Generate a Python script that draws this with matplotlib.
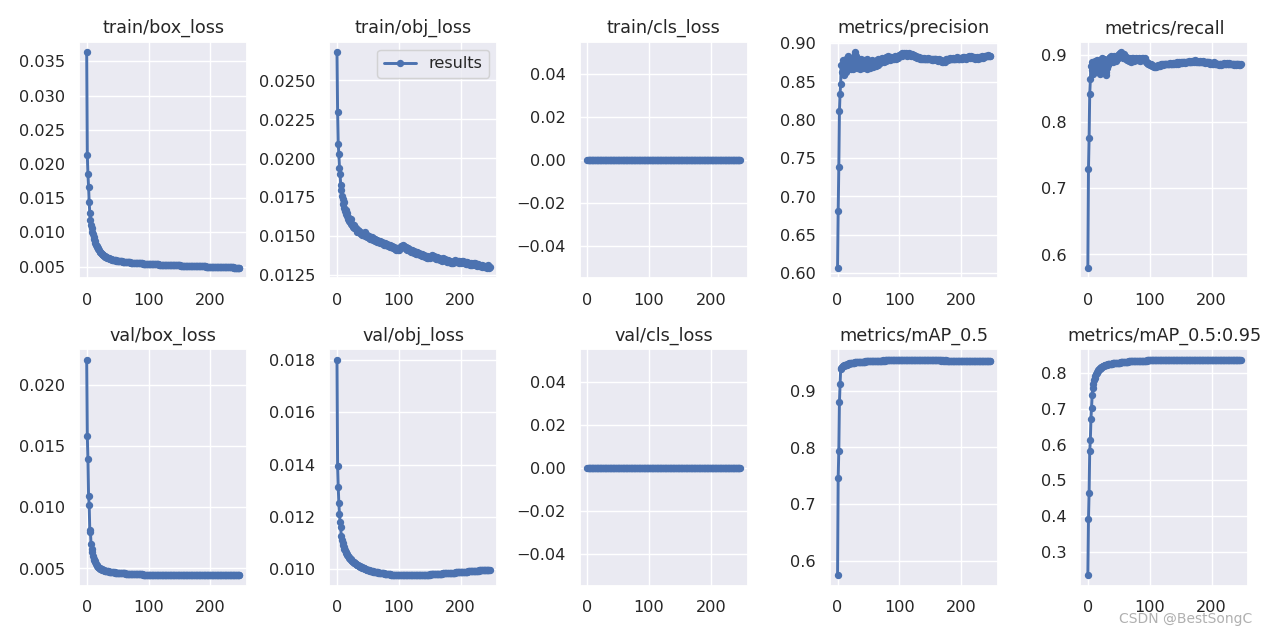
import matplotlib
matplotlib.use('Agg')
import matplotlib.pyplot as plt
import seaborn as sns

train_box_loss = [
    0.0363, 0.0213, 0.0185, 0.0167, 0.0144, 0.0128, 0.0118, 0.0111, 0.0106, 0.0101,
    0.0097, 0.0093, 0.0090, 0.0087, 0.0084, 0.0082, 0.0080, 0.0078, 0.0077, 0.0075,
    0.0074, 0.0072, 0.0071, 0.0070, 0.0069, 0.0068, 0.0067, 0.0067, 0.0066, 0.0065,
    0.00647, 0.00641, 0.00636, 0.00631, 0.00627, 0.00622, 0.00618, 0.00615, 0.00612, 0.00609,
    0.00606, 0.00603, 0.00601, 0.00598, 0.00596, 0.00594, 0.00592, 0.00590, 0.00588, 0.00587,
    0.00585, 0.00583, 0.00582, 0.00580, 0.00579, 0.00577, 0.00576, 0.00575, 0.00573, 0.00572,
    0.00571, 0.00570, 0.00569, 0.00567, 0.00566, 0.00565, 0.00564, 0.00563, 0.00562, 0.00561,
    0.00560, 0.00559, 0.00558, 0.00557, 0.00557, 0.00556, 0.00555, 0.00554, 0.00553, 0.00553,
    0.00552, 0.00551, 0.00550, 0.00550, 0.00549, 0.00548, 0.00548, 0.00547, 0.00546, 0.00546,
    0.00545, 0.00544, 0.00544, 0.00543, 0.00543, 0.00542, 0.00541, 0.00541, 0.00540, 0.00540,
    0.00539, 0.00539, 0.00538, 0.00537, 0.00537, 0.00536, 0.00536, 0.00535, 0.00535, 0.00534,
    0.00534, 0.00533, 0.00533, 0.00532, 0.00532, 0.00531, 0.00531, 0.00530, 0.00530, 0.00529,
    0.00529, 0.00528, 0.00528, 0.00527, 0.00527, 0.00526, 0.00526, 0.00526, 0.00525, 0.00525,
    0.00524, 0.00524, 0.00523, 0.00523, 0.00523, 0.00522, 0.00522, 0.00521, 0.00521, 0.00521,
    0.00520, 0.00520, 0.00519, 0.00519, 0.00519, 0.00518, 0.00518, 0.00517, 0.00517, 0.00517,
    0.00516, 0.00516, 0.00515, 0.00515, 0.00515, 0.00514, 0.00514, 0.00514, 0.00513, 0.00513,
    0.00512, 0.00512, 0.00512, 0.00511, 0.00511, 0.00511, 0.00510, 0.00510, 0.00510, 0.00509,
    0.00509, 0.00509, 0.00508, 0.00508, 0.00508, 0.00507, 0.00507, 0.00507, 0.00506, 0.00506,
    0.00506, 0.00505, 0.00505, 0.00505, 0.00504, 0.00504, 0.00504, 0.00503, 0.00503, 0.00503,
    0.00502, 0.00502, 0.00502, 0.00501, 0.00501, 0.00501, 0.00500, 0.00500, 0.00500, 0.00499,
    0.00499, 0.00499, 0.00498, 0.00498, 0.00498, 0.00497, 0.00497, 0.00497, 0.00496, 0.00496,
    0.00496, 0.00495, 0.00495, 0.00495, 0.00494, 0.00494, 0.00494, 0.00493, 0.00493, 0.00493,
    0.00492, 0.00492, 0.00492, 0.00491, 0.00491, 0.00491, 0.00490, 0.00490, 0.00490, 0.00489,
    0.00489, 0.00489, 0.00488, 0.00488, 0.00488, 0.00487, 0.00487, 0.00487, 0.00486, 0.00486,
    0.00486, 0.00485, 0.00485, 0.00485, 0.00484, 0.00484, 0.00484, 0.00483,
]

train_obj_loss = [
    0.0268, 0.0230, 0.0209, 0.0203, 0.0194, 0.0190, 0.0183, 0.0180, 0.0176, 0.0174,
    0.0171, 0.0172, 0.0168, 0.0166, 0.0167, 0.0164, 0.0163, 0.0165, 0.0161, 0.0162,
    0.0160, 0.0159, 0.0161, 0.0158, 0.0157, 0.0158, 0.0156, 0.0155, 0.0157, 0.0155,
    0.01545, 0.01552, 0.01538, 0.01530, 0.01541, 0.01525, 0.01532, 0.01518, 0.01527, 0.01515,
    0.01522, 0.01510, 0.01518, 0.01505, 0.01512, 0.01500, 0.01525, 0.01508, 0.01495, 0.01510,
    0.01498, 0.01489, 0.01503, 0.01485, 0.01492, 0.01480, 0.01495, 0.01482, 0.01478, 0.01490,
    0.01475, 0.01484, 0.01470, 0.01478, 0.01466, 0.01474, 0.01462, 0.01471, 0.01460, 0.01468,
    0.01458, 0.01465, 0.01455, 0.01462, 0.01450, 0.01458, 0.01447, 0.01455, 0.01444, 0.01452,
    0.01441, 0.01449, 0.01438, 0.01446, 0.01435, 0.01443, 0.01432, 0.01440, 0.01428, 0.01437,
    0.01425, 0.01434, 0.01422, 0.01430, 0.01418, 0.01427, 0.01415, 0.01424, 0.01412, 0.01420,
    0.01410, 0.01418, 0.01425, 0.01432, 0.01438, 0.01440, 0.01435, 0.01442, 0.01430, 0.01436,
    0.01425, 0.01432, 0.01420, 0.01427, 0.01415, 0.01422, 0.01410, 0.01418, 0.01405, 0.01414,
    0.01402, 0.01410, 0.01398, 0.01407, 0.01395, 0.01404, 0.01392, 0.01400, 0.01389, 0.01397,
    0.01386, 0.01394, 0.01383, 0.01391, 0.01380, 0.01388, 0.01377, 0.01385, 0.01374, 0.01382,
    0.01371, 0.01379, 0.01368, 0.01376, 0.01365, 0.01373, 0.01362, 0.01370, 0.01360, 0.01368,
    0.01358, 0.01366, 0.01372, 0.01378, 0.01370, 0.01376, 0.01365, 0.01372, 0.01360, 0.01368,
    0.01357, 0.01365, 0.01354, 0.01362, 0.01351, 0.01359, 0.01348, 0.01356, 0.01346, 0.01354,
    0.01344, 0.01352, 0.01360, 0.01355, 0.01348, 0.01356, 0.01342, 0.01350, 0.01338, 0.01347,
    0.01336, 0.01344, 0.01333, 0.01341, 0.01330, 0.01338, 0.01328, 0.01336, 0.01326, 0.01334,
    0.01340, 0.01346, 0.01338, 0.01344, 0.01335, 0.01342, 0.01332, 0.01339, 0.01330, 0.01337,
    0.01328, 0.01336, 0.01340, 0.01334, 0.01342, 0.01331, 0.01338, 0.01327, 0.01335, 0.01324,
    0.01332, 0.01322, 0.01330, 0.01320, 0.01328, 0.01318, 0.01326, 0.01316, 0.01324, 0.01314,
    0.01322, 0.01330, 0.01325, 0.01318, 0.01327, 0.01315, 0.01323, 0.01312, 0.01320, 0.01310,
    0.01318, 0.01308, 0.01316, 0.01306, 0.01314, 0.01305, 0.01312, 0.01303, 0.01311, 0.01302,
    0.01309, 0.01300, 0.01308, 0.01299, 0.01306, 0.01315, 0.01298, 0.01305,
]

train_cls_loss = [0.0] * 248

precision = [
    0.607, 0.681, 0.738, 0.811, 0.834, 0.847, 0.872, 0.862, 0.878, 0.866,
    0.858, 0.874, 0.869, 0.880, 0.863, 0.876, 0.871, 0.884, 0.868, 0.873,
    0.879, 0.866, 0.874, 0.870, 0.881, 0.867, 0.875, 0.869, 0.886, 0.888,
    0.883, 0.874, 0.868, 0.877, 0.871, 0.879, 0.866, 0.873, 0.880, 0.870,
    0.876, 0.868, 0.874, 0.878, 0.869, 0.875, 0.871, 0.879, 0.867, 0.873,
    0.877, 0.870, 0.874, 0.868, 0.876, 0.872, 0.878, 0.869, 0.874, 0.871,
    0.877, 0.873, 0.870, 0.878, 0.874, 0.880, 0.872, 0.876, 0.879, 0.874,
    0.878, 0.875, 0.881, 0.877, 0.879, 0.876, 0.880, 0.878, 0.882, 0.877,
    0.880, 0.878, 0.883, 0.879, 0.881, 0.878, 0.882, 0.880, 0.879, 0.881,
    0.879, 0.882, 0.880, 0.883, 0.881, 0.879, 0.882, 0.884, 0.881, 0.883,
    0.885, 0.884, 0.886, 0.885, 0.887, 0.884, 0.886, 0.885, 0.887, 0.886,
    0.885, 0.887, 0.886, 0.884, 0.886, 0.885, 0.887, 0.886, 0.885, 0.884,
    0.886, 0.885, 0.884, 0.885, 0.883, 0.884, 0.882, 0.883, 0.882, 0.881,
    0.882, 0.881, 0.882, 0.880, 0.881, 0.880, 0.881, 0.880, 0.879, 0.880,
    0.881, 0.880, 0.879, 0.880, 0.879, 0.880, 0.881, 0.880, 0.879, 0.880,
    0.879, 0.880, 0.879, 0.878, 0.879, 0.878, 0.879, 0.880, 0.879, 0.878,
    0.879, 0.878, 0.877, 0.878, 0.879, 0.878, 0.877, 0.878, 0.877, 0.876,
    0.877, 0.876, 0.877, 0.876, 0.877, 0.878, 0.879, 0.880, 0.879, 0.878,
    0.879, 0.880, 0.881, 0.880, 0.879, 0.880, 0.881, 0.880, 0.879, 0.880,
    0.879, 0.880, 0.881, 0.882, 0.881, 0.880, 0.879, 0.880, 0.881, 0.880,
    0.881, 0.880, 0.881, 0.882, 0.881, 0.882, 0.881, 0.880, 0.881, 0.882,
    0.881, 0.882, 0.883, 0.882, 0.881, 0.882, 0.883, 0.882, 0.881, 0.882,
    0.881, 0.882, 0.881, 0.880, 0.881, 0.882, 0.881, 0.880, 0.881, 0.882,
    0.881, 0.882, 0.881, 0.882, 0.883, 0.882, 0.881, 0.882, 0.883, 0.884,
    0.883, 0.884, 0.883, 0.884, 0.885, 0.884, 0.883, 0.884,
]

recall = [
    0.580, 0.729, 0.775, 0.841, 0.864, 0.884, 0.878, 0.889, 0.872, 0.886,
    0.880, 0.891, 0.876, 0.887, 0.883, 0.893, 0.879, 0.888, 0.874, 0.885,
    0.871, 0.892, 0.886, 0.896, 0.880, 0.889, 0.894, 0.883, 0.876, 0.870,
    0.874, 0.880, 0.891, 0.885, 0.895, 0.888, 0.897, 0.890, 0.899, 0.893,
    0.896, 0.890, 0.898, 0.893, 0.895, 0.891, 0.897, 0.894, 0.900, 0.896,
    0.902, 0.897, 0.903, 0.899, 0.904, 0.898, 0.902, 0.896, 0.901, 0.895,
    0.899, 0.894, 0.897, 0.893, 0.896, 0.892, 0.895, 0.891, 0.894, 0.890,
    0.893, 0.895, 0.892, 0.896, 0.893, 0.891, 0.894, 0.892, 0.895, 0.893,
    0.894, 0.892, 0.895, 0.893, 0.891, 0.894, 0.892, 0.895, 0.893, 0.896,
    0.894, 0.892, 0.895, 0.893, 0.890, 0.888, 0.889, 0.887, 0.888, 0.886,
    0.887, 0.885, 0.886, 0.884, 0.885, 0.883, 0.884, 0.882, 0.883, 0.882,
    0.883, 0.882, 0.884, 0.883, 0.885, 0.884, 0.885, 0.884, 0.886, 0.885,
    0.886, 0.885, 0.886, 0.887, 0.886, 0.887, 0.886, 0.887, 0.886, 0.887,
    0.887, 0.886, 0.887, 0.888, 0.887, 0.886, 0.887, 0.888, 0.887, 0.888,
    0.887, 0.888, 0.887, 0.888, 0.889, 0.888, 0.887, 0.888, 0.889, 0.888,
    0.889, 0.888, 0.889, 0.888, 0.889, 0.890, 0.889, 0.888, 0.889, 0.890,
    0.889, 0.890, 0.889, 0.890, 0.891, 0.890, 0.889, 0.890, 0.891, 0.890,
    0.891, 0.890, 0.891, 0.892, 0.891, 0.890, 0.891, 0.890, 0.889, 0.890,
    0.889, 0.890, 0.891, 0.890, 0.889, 0.890, 0.891, 0.890, 0.889, 0.888,
    0.889, 0.890, 0.889, 0.890, 0.889, 0.888, 0.889, 0.888, 0.887, 0.888,
    0.887, 0.888, 0.887, 0.888, 0.889, 0.888, 0.887, 0.886, 0.887, 0.886,
    0.887, 0.886, 0.885, 0.886, 0.887, 0.886, 0.885, 0.886, 0.887, 0.886,
    0.887, 0.888, 0.887, 0.886, 0.887, 0.888, 0.887, 0.886, 0.887, 0.888,
    0.887, 0.886, 0.887, 0.886, 0.887, 0.886, 0.885, 0.886, 0.887, 0.886,
    0.885, 0.886, 0.887, 0.886, 0.885, 0.886, 0.885, 0.886,
]

val_box_loss = [
    0.0220, 0.0158, 0.0139, 0.0109, 0.0102, 0.0081, 0.0080, 0.0070, 0.0066, 0.0063,
    0.0060, 0.0058, 0.0057, 0.0056, 0.0055, 0.0054, 0.0053, 0.0052, 0.00515, 0.0051,
    0.00505, 0.00501, 0.00498, 0.00495, 0.00492, 0.00490, 0.00488, 0.00486, 0.00484, 0.00482,
    0.00481, 0.00479, 0.00478, 0.00477, 0.00476, 0.00475, 0.00474, 0.00473, 0.00472, 0.00471,
    0.00470, 0.00469, 0.00469, 0.00468, 0.00467, 0.00467, 0.00466, 0.00466, 0.00465, 0.00465,
    0.00464, 0.00464, 0.00463, 0.00463, 0.00462, 0.00462, 0.00461, 0.00461, 0.00460, 0.00460,
    0.00460, 0.00459, 0.00459, 0.00458, 0.00458, 0.00458, 0.00457, 0.00457, 0.00457, 0.00456,
    0.00456, 0.00456, 0.00455, 0.00455, 0.00455, 0.00454, 0.00454, 0.00454, 0.00454, 0.00453,
    0.00453, 0.00453, 0.00453, 0.00452, 0.00452, 0.00452, 0.00452, 0.00451, 0.00451, 0.00451,
    0.00451, 0.00450, 0.00450, 0.00450, 0.00450, 0.00449, 0.00449, 0.00449, 0.00449, 0.00449,
    0.00448, 0.00448, 0.00448, 0.00448, 0.00447, 0.00447, 0.00447, 0.00447, 0.00447, 0.00447,
    0.00446, 0.00446, 0.00446, 0.00446, 0.00446, 0.00446, 0.00446, 0.00446, 0.00446, 0.00446,
    0.00446, 0.00446, 0.00446, 0.00446, 0.00446, 0.00445, 0.00445, 0.00445, 0.00445, 0.00445,
    0.00445, 0.00445, 0.00445, 0.00445, 0.00445, 0.00445, 0.00445, 0.00445, 0.00445, 0.00445,
    0.00445, 0.00445, 0.00445, 0.00444, 0.00445, 0.00445, 0.00444, 0.00445, 0.00445, 0.00444,
    0.00445, 0.00444, 0.00444, 0.00445, 0.00444, 0.00444, 0.00445, 0.00444, 0.00444, 0.00444,
    0.00444, 0.00445, 0.00444, 0.00444, 0.00444, 0.00444, 0.00445, 0.00444, 0.00444, 0.00444,
    0.00444, 0.00444, 0.00444, 0.00445, 0.00444, 0.00444, 0.00444, 0.00444, 0.00444, 0.00445,
    0.00444, 0.00444, 0.00444, 0.00444, 0.00445, 0.00444, 0.00444, 0.00444, 0.00445, 0.00444,
    0.00444, 0.00445, 0.00444, 0.00444, 0.00444, 0.00445, 0.00444, 0.00445, 0.00444, 0.00444,
    0.00445, 0.00444, 0.00444, 0.00445, 0.00444, 0.00445, 0.00444, 0.00444, 0.00445, 0.00444,
    0.00445, 0.00444, 0.00445, 0.00444, 0.00445, 0.00445, 0.00444, 0.00445, 0.00444, 0.00445,
    0.00445, 0.00444, 0.00445, 0.00445, 0.00444, 0.00445, 0.00445, 0.00444, 0.00445, 0.00445,
    0.00445, 0.00445, 0.00444, 0.00445, 0.00445, 0.00445, 0.00444, 0.00445, 0.00445, 0.00445,
    0.00445, 0.00445, 0.00445, 0.00444, 0.00445, 0.00445, 0.00445, 0.00445,
]

val_obj_loss = [
    0.0180, 0.01394, 0.01314, 0.01253, 0.01210, 0.01182, 0.01160, 0.01126, 0.01112, 0.01100,
    0.01092, 0.01085, 0.01078, 0.01072, 0.01067, 0.01062, 0.01058, 0.01054, 0.01050, 0.01047,
    0.01044, 0.01041, 0.01038, 0.01036, 0.01033, 0.01031, 0.01029, 0.01027, 0.01025, 0.01023,
    0.01021, 0.01019, 0.01018, 0.01016, 0.01015, 0.01013, 0.01012, 0.01011, 0.01009, 0.01008,
    0.01007, 0.01006, 0.01005, 0.01004, 0.01003, 0.01002, 0.01001, 0.01000, 0.00999, 0.00998,
    0.00997, 0.00997, 0.00996, 0.00995, 0.00994, 0.00994, 0.00993, 0.00992, 0.00992, 0.00991,
    0.00991, 0.00990, 0.00990, 0.00989, 0.00989, 0.00988, 0.00988, 0.00987, 0.00987, 0.00986,
    0.00986, 0.00986, 0.00985, 0.00985, 0.00984, 0.00984, 0.00984, 0.00983, 0.00983, 0.00983,
    0.00982, 0.00982, 0.00982, 0.00981, 0.00981, 0.00981, 0.00981, 0.00980, 0.00980, 0.00980,
    0.00980, 0.00979, 0.00979, 0.00979, 0.00979, 0.00979, 0.00978, 0.00978, 0.00978, 0.00978,
    0.00978, 0.00978, 0.00978, 0.00978, 0.00977, 0.00977, 0.00977, 0.00977, 0.00977, 0.00977,
    0.00977, 0.00977, 0.00977, 0.00977, 0.00977, 0.00977, 0.00977, 0.00977, 0.00977, 0.00977,
    0.00977, 0.00977, 0.00977, 0.00977, 0.00977, 0.00977, 0.00977, 0.00977, 0.00977, 0.00977,
    0.00978, 0.00978, 0.00978, 0.00978, 0.00978, 0.00978, 0.00979, 0.00979, 0.00979, 0.00979,
    0.00979, 0.00979, 0.00979, 0.00980, 0.00980, 0.00980, 0.00980, 0.00980, 0.00980, 0.00980,
    0.00980, 0.00981, 0.00981, 0.00981, 0.00981, 0.00981, 0.00981, 0.00981, 0.00982, 0.00982,
    0.00982, 0.00982, 0.00982, 0.00982, 0.00982, 0.00983, 0.00983, 0.00983, 0.00983, 0.00983,
    0.00983, 0.00984, 0.00984, 0.00984, 0.00984, 0.00984, 0.00984, 0.00985, 0.00985, 0.00985,
    0.00985, 0.00985, 0.00986, 0.00986, 0.00986, 0.00986, 0.00986, 0.00987, 0.00987, 0.00987,
    0.00987, 0.00987, 0.00988, 0.00988, 0.00988, 0.00988, 0.00988, 0.00989, 0.00989, 0.00989,
    0.00989, 0.00989, 0.00990, 0.00990, 0.00990, 0.00990, 0.00990, 0.00991, 0.00991, 0.00991,
    0.00991, 0.00991, 0.00992, 0.00992, 0.00992, 0.00992, 0.00993, 0.00993, 0.00993, 0.00993,
    0.00993, 0.00994, 0.00994, 0.00994, 0.00994, 0.00995, 0.00995, 0.00995, 0.00995, 0.00995,
    0.00996, 0.00996, 0.00996, 0.00996, 0.00997, 0.00997, 0.00997, 0.00997, 0.00997, 0.00998,
    0.00998, 0.00998, 0.00998, 0.00998, 0.00999, 0.00999, 0.00999, 0.00999,
]

val_cls_loss = [0.0] * 248

map_50 = [
    0.575, 0.747, 0.794, 0.880, 0.911, 0.938, 0.940, 0.942, 0.943, 0.944,
    0.944, 0.945, 0.945, 0.946, 0.946, 0.946, 0.947, 0.947, 0.947, 0.948,
    0.948, 0.948, 0.948, 0.949, 0.949, 0.949, 0.949, 0.949, 0.950, 0.950,
    0.950, 0.950, 0.950, 0.950, 0.950, 0.951, 0.950, 0.951, 0.951, 0.951,
    0.951, 0.951, 0.951, 0.951, 0.952, 0.951, 0.952, 0.952, 0.952, 0.952,
    0.952, 0.952, 0.952, 0.952, 0.952, 0.952, 0.953, 0.952, 0.953, 0.953,
    0.953, 0.953, 0.953, 0.953, 0.953, 0.953, 0.953, 0.953, 0.953, 0.953,
    0.953, 0.953, 0.953, 0.954, 0.953, 0.953, 0.954, 0.953, 0.954, 0.954,
    0.954, 0.954, 0.954, 0.954, 0.954, 0.954, 0.954, 0.954, 0.954, 0.954,
    0.954, 0.954, 0.954, 0.954, 0.954, 0.954, 0.954, 0.954, 0.954, 0.954,
    0.954, 0.954, 0.954, 0.954, 0.954, 0.954, 0.954, 0.954, 0.954, 0.954,
    0.954, 0.954, 0.954, 0.954, 0.954, 0.954, 0.954, 0.954, 0.954, 0.954,
    0.954, 0.954, 0.954, 0.954, 0.954, 0.954, 0.954, 0.954, 0.954, 0.954,
    0.954, 0.954, 0.954, 0.954, 0.954, 0.954, 0.954, 0.954, 0.954, 0.954,
    0.954, 0.954, 0.954, 0.954, 0.954, 0.954, 0.954, 0.954, 0.954, 0.954,
    0.954, 0.954, 0.954, 0.954, 0.954, 0.954, 0.954, 0.954, 0.954, 0.954,
    0.954, 0.954, 0.954, 0.954, 0.954, 0.954, 0.954, 0.953, 0.954, 0.954,
    0.953, 0.954, 0.953, 0.954, 0.953, 0.953, 0.954, 0.953, 0.953, 0.953,
    0.953, 0.953, 0.953, 0.953, 0.953, 0.953, 0.953, 0.953, 0.953, 0.953,
    0.953, 0.953, 0.953, 0.953, 0.953, 0.953, 0.953, 0.953, 0.953, 0.953,
    0.953, 0.953, 0.953, 0.953, 0.953, 0.953, 0.953, 0.953, 0.953, 0.953,
    0.953, 0.953, 0.953, 0.953, 0.953, 0.953, 0.953, 0.953, 0.953, 0.953,
    0.953, 0.953, 0.953, 0.953, 0.953, 0.953, 0.953, 0.953, 0.953, 0.953,
    0.953, 0.953, 0.953, 0.953, 0.953, 0.953, 0.953, 0.953, 0.953, 0.953,
    0.953, 0.953, 0.953, 0.953, 0.953, 0.953, 0.953, 0.953,
]

map_50_95 = [
    0.235, 0.392, 0.465, 0.581, 0.612, 0.671, 0.702, 0.738, 0.758, 0.770,
    0.779, 0.786, 0.791, 0.796, 0.800, 0.803, 0.806, 0.808, 0.810, 0.812,
    0.813, 0.815, 0.816, 0.817, 0.818, 0.819, 0.820, 0.821, 0.822, 0.822,
    0.823, 0.823, 0.824, 0.824, 0.825, 0.825, 0.825, 0.826, 0.826, 0.826,
    0.827, 0.827, 0.827, 0.827, 0.828, 0.828, 0.828, 0.828, 0.829, 0.829,
    0.829, 0.829, 0.829, 0.830, 0.830, 0.830, 0.830, 0.830, 0.830, 0.831,
    0.831, 0.831, 0.831, 0.831, 0.831, 0.831, 0.832, 0.832, 0.832, 0.832,
    0.832, 0.832, 0.832, 0.832, 0.833, 0.833, 0.833, 0.833, 0.833, 0.833,
    0.833, 0.833, 0.833, 0.833, 0.834, 0.834, 0.834, 0.834, 0.834, 0.834,
    0.834, 0.834, 0.834, 0.834, 0.834, 0.834, 0.835, 0.835, 0.835, 0.835,
    0.835, 0.835, 0.835, 0.835, 0.835, 0.835, 0.835, 0.835, 0.835, 0.835,
    0.835, 0.835, 0.836, 0.836, 0.836, 0.836, 0.836, 0.836, 0.836, 0.836,
    0.836, 0.836, 0.836, 0.836, 0.836, 0.836, 0.836, 0.836, 0.836, 0.836,
    0.836, 0.836, 0.836, 0.836, 0.836, 0.836, 0.836, 0.836, 0.836, 0.836,
    0.836, 0.836, 0.836, 0.836, 0.836, 0.836, 0.836, 0.836, 0.836, 0.836,
    0.836, 0.836, 0.836, 0.836, 0.836, 0.836, 0.836, 0.836, 0.836, 0.836,
    0.836, 0.836, 0.836, 0.836, 0.836, 0.836, 0.836, 0.836, 0.836, 0.836,
    0.836, 0.836, 0.836, 0.836, 0.836, 0.836, 0.836, 0.836, 0.836, 0.836,
    0.836, 0.836, 0.836, 0.836, 0.836, 0.836, 0.836, 0.836, 0.836, 0.836,
    0.836, 0.836, 0.836, 0.836, 0.836, 0.836, 0.836, 0.836, 0.836, 0.836,
    0.836, 0.836, 0.836, 0.836, 0.836, 0.836, 0.836, 0.836, 0.836, 0.836,
    0.836, 0.836, 0.836, 0.836, 0.836, 0.836, 0.836, 0.836, 0.836, 0.836,
    0.836, 0.836, 0.836, 0.836, 0.836, 0.835, 0.836, 0.835, 0.836, 0.835,
    0.835, 0.835, 0.835, 0.835, 0.835, 0.835, 0.835, 0.835, 0.835, 0.835,
    0.835, 0.835, 0.835, 0.835, 0.835, 0.835, 0.835, 0.835,
]

titles = ['train/box_loss', 'train/obj_loss', 'train/cls_loss', 'metrics/precision', 'metrics/recall',
          'val/box_loss', 'val/obj_loss', 'val/cls_loss', 'metrics/mAP_0.5', 'metrics/mAP_0.5:0.95']
series = [train_box_loss, train_obj_loss, train_cls_loss, precision, recall,
          val_box_loss, val_obj_loss, val_cls_loss, map_50, map_50_95]

sns.set_theme(style='darkgrid')
plt.rcParams['font.family'] = ['DejaVu Sans']

fig, ax = plt.subplots(2, 5, figsize=(12, 6.005), dpi=105.6)
ax = ax.ravel()
for i, (title, y) in enumerate(zip(titles, series)):
    x = list(range(len(y)))
    ax[i].plot(x, y, marker='.', label='results', linewidth=2, markersize=8, color='#4C72B0')
    ax[i].set_title(title, fontsize=12)
ax[1].legend()

fig.tight_layout()
# watermark from the screenshot (it sits over the last tick labels there too)
fig.text(0.988, 0.013, 'CSDN @BestSongC', ha='right', va='bottom', fontsize=9.5, color='#b0b0b0')
fig.savefig('out.png', dpi=105.6)
